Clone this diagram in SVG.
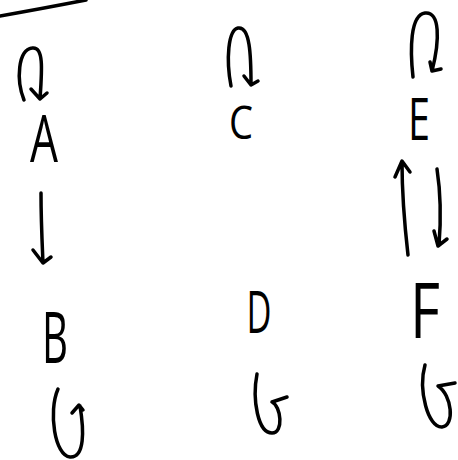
<svg xmlns="http://www.w3.org/2000/svg" width="458" height="460" viewBox="0 0 458 460">
<style>
.e{fill:none;stroke:#000;stroke-width:3.5;stroke-linecap:round;stroke-linejoin:round}
.t{font-family:"Open Sans","Liberation Sans",sans-serif;font-weight:400;fill:#000;text-anchor:middle}
</style>
<rect width="458" height="460" fill="#fff"/>
<path class="e" d="M0,16 Q45,8 86,0"/>
<g id="connectors">
<path class="e" d="M24,100 C16,80 18,50 32,48 C44,46 42,70 40,99 M31,89 L40,99 L47,93"/>
<path class="e" d="M231,86 C226,60 228,30 238,28 C250,26 251,55 251,85 M244,76 L251,85 L258,81"/>
<path class="e" d="M413,77 C410,50 410,15 425,13 C440,11 440,40 432,71 M430,62 L432,71 L441,69"/>
<path class="e" d="M41,193 C41,220 42,240 43,263 M33,250 L43,263 L51,257"/>
<path class="e" d="M408,255 C404,220 402,190 402,162 M395,177 L402,161 L410,172"/>
<path class="e" d="M437,169 C441,195 441,220 439,245 M434,231 L438,246 L447,239"/>
<path class="e" d="M58,389 C48,412 55,456 70,457 C85,458 84,430 80,406 M72,413 L79,405 L83,410"/>
<path class="e" d="M257,374 C252,400 258,433 272,433 C284,433 281,406 272,402 L287,397"/>
<path class="e" d="M425,365 C418,390 428,428 442,427 C455,426 452,395 438,386 L455,383"/>
</g>
<g id="A"><text class="t" x="44" y="162" font-size="66" textLength="28" lengthAdjust="spacingAndGlyphs">A</text></g>
<g id="B"><text class="t" x="55" y="363" font-size="72" textLength="26" lengthAdjust="spacingAndGlyphs">B</text></g>
<g id="C"><text class="t" x="241" y="139" font-size="46" textLength="24" lengthAdjust="spacingAndGlyphs">C</text></g>
<g id="D"><text class="t" x="259" y="333" font-size="58" textLength="25" lengthAdjust="spacingAndGlyphs">D</text></g>
<g id="E"><text class="t" x="419" y="140" font-size="58" textLength="22" lengthAdjust="spacingAndGlyphs">E</text></g>
<g id="F"><text class="t" x="425" y="338" font-size="76" textLength="30" lengthAdjust="spacingAndGlyphs">F</text></g>
</svg>
